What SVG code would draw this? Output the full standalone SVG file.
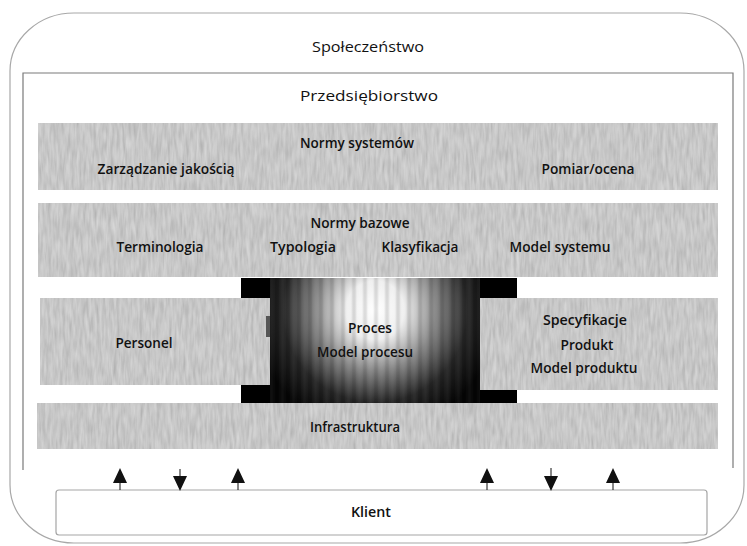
<svg xmlns="http://www.w3.org/2000/svg" width="747" height="546" viewBox="0 0 747 546">
  <style>
    text { font-family: "Open Sans", "Noto Sans", "Liberation Sans", sans-serif; font-size: 14px; fill: #111; text-anchor: middle; }
    .reg { font-weight: 400; }
    .sb { font-weight: 600; }
    .frame { fill: none; stroke: #a8a8a8; stroke-width: 1.2; }
    .band { fill: #cbcbcb; filter: url(#grain); }
    .arrow { stroke: #111; stroke-width: 1; fill: none; }
    .head { fill: #111; }
  </style>
  <defs>
    <!-- soft streaky grain for the grey layers -->
    <filter id="grain" x="0" y="0" width="1" height="1">
      <feTurbulence type="fractalNoise" baseFrequency="0.35 0.05" numOctaves="2" seed="7" result="n"/>
      <feColorMatrix in="n" type="matrix" values="0 0 0 0 0  0 0 0 0 0  0 0 0 0 0  0.45 0 0 0 -0.14" result="dark"/>
      <feComposite in="dark" in2="SourceGraphic" operator="in" result="darkIn"/>
      <feTurbulence type="fractalNoise" baseFrequency="0.3 0.06" numOctaves="2" seed="19" result="n2"/>
      <feColorMatrix in="n2" type="matrix" values="0 0 0 0 1  0 0 0 0 1  0 0 0 0 1  0.4 0 0 0 -0.14" result="light"/>
      <feComposite in="light" in2="SourceGraphic" operator="in" result="lightIn"/>
      <feMerge>
        <feMergeNode in="SourceGraphic"/>
        <feMergeNode in="darkIn"/>
        <feMergeNode in="lightIn"/>
      </feMerge>
    </filter>
    <!-- light core of the process block -->
    <radialGradient id="glow" gradientUnits="userSpaceOnUse" cx="375" cy="310" r="122">
      <stop offset="0" stop-color="#ffffff"/>
      <stop offset="0.24" stop-color="#efefef"/>
      <stop offset="0.5" stop-color="#858585"/>
      <stop offset="0.76" stop-color="#262626"/>
      <stop offset="1" stop-color="#050505"/>
    </radialGradient>
    <filter id="soft" x="-5%" y="-5%" width="110%" height="110%">
      <feGaussianBlur stdDeviation="1.2"/>
    </filter>
    <pattern id="stripes" patternUnits="userSpaceOnUse" width="11" height="10">
      <rect x="0" y="0" width="4" height="10" fill="#000" opacity="0.13"/>
      <rect x="6" y="0" width="3" height="10" fill="#fff" opacity="0.05"/>
    </pattern>
    <clipPath id="core">
      <rect x="270" y="278" width="210" height="125"/>
    </clipPath>
  </defs>

  <!-- society frame -->
  <g id="spoleczenstwo">
    <rect class="frame" x="10" y="13" width="734" height="530" rx="64" ry="58"/>
    <text class="reg" x="368" y="52" textLength="112" lengthAdjust="spacingAndGlyphs">Społeczeństwo</text>
  </g>

  <!-- enterprise frame (open at the bottom) -->
  <g id="przedsiebiorstwo">
    <path d="M23,470 V73 H733 V468" fill="none" stroke="#7a7a7a" stroke-width="1.2"/>
    <text class="reg" x="369" y="101" textLength="138" lengthAdjust="spacingAndGlyphs">Przedsiębiorstwo</text>
  </g>

  <g id="normy-systemow">
    <rect class="band" x="38" y="123" width="680" height="67"/>
    <text class="sb" x="357" y="148" textLength="114" lengthAdjust="spacingAndGlyphs">Normy systemów</text>
    <text class="sb" x="166" y="174" textLength="137" lengthAdjust="spacingAndGlyphs">Zarządzanie jakością</text>
    <text class="sb" x="588" y="174" textLength="93" lengthAdjust="spacingAndGlyphs">Pomiar/ocena</text>
  </g>

  <g id="normy-bazowe">
    <rect class="band" x="38" y="203" width="680" height="74"/>
    <text class="sb" x="360" y="228" textLength="99" lengthAdjust="spacingAndGlyphs">Normy bazowe</text>
    <text class="sb" x="160" y="252" textLength="87" lengthAdjust="spacingAndGlyphs">Terminologia</text>
    <text class="sb" x="303" y="252" textLength="66" lengthAdjust="spacingAndGlyphs">Typologia</text>
    <text class="sb" x="420" y="252" textLength="77" lengthAdjust="spacingAndGlyphs">Klasyfikacja</text>
    <text class="sb" x="560" y="252" textLength="101" lengthAdjust="spacingAndGlyphs">Model systemu</text>
  </g>

  <g id="proces">
    <rect x="241" y="278" width="276" height="125" fill="#000"/>
    <g clip-path="url(#core)">
      <rect x="270" y="278" width="210" height="125" fill="url(#glow)"/>
      <rect x="266" y="274" width="218" height="133" fill="url(#stripes)" filter="url(#soft)"/>
    </g>
    <text class="sb" x="370" y="333" textLength="44" lengthAdjust="spacingAndGlyphs">Proces</text>
    <text class="sb" x="365" y="357" textLength="96" lengthAdjust="spacingAndGlyphs">Model procesu</text>
  </g>

  <g id="personel">
    <rect class="band" x="40" y="298" width="230" height="87"/>
    <rect x="266" y="316" width="4" height="21" fill="#555"/>
    <text class="sb" x="144" y="348" textLength="57" lengthAdjust="spacingAndGlyphs">Personel</text>
  </g>

  <g id="produkt">
    <rect class="band" x="480" y="298" width="238" height="92"/>
    <text class="sb" x="585" y="325" textLength="84" lengthAdjust="spacingAndGlyphs">Specyfikacje</text>
    <text class="sb" x="587" y="350" textLength="53" lengthAdjust="spacingAndGlyphs">Produkt</text>
    <text class="sb" x="584" y="373" textLength="107" lengthAdjust="spacingAndGlyphs">Model produktu</text>
  </g>

  <g id="infrastruktura">
    <rect class="band" x="37" y="403" width="681" height="46"/>
    <text class="sb" x="355" y="432" textLength="90" lengthAdjust="spacingAndGlyphs">Infrastruktura</text>
  </g>

  <g id="klient">
    <rect x="56" y="490" width="651" height="45" rx="3" fill="#fff" stroke="#a5a5a5" stroke-width="1.2"/>
    <text class="sb" x="371" y="517" textLength="40" lengthAdjust="spacingAndGlyphs">Klient</text>
  </g>

  <!-- flows between the enterprise and the client -->
  <g id="connectors">
    <g>
      <line class="arrow" x1="120" y1="490" x2="120" y2="482"/>
      <path class="head" d="M120,468 L127,483 L113,483 Z"/>
    </g>
    <g>
      <line class="arrow" x1="180" y1="469" x2="180" y2="477"/>
      <path class="head" d="M180,491 L187,476 L173,476 Z"/>
    </g>
    <g>
      <line class="arrow" x1="238" y1="490" x2="238" y2="482"/>
      <path class="head" d="M238,468 L245,483 L231,483 Z"/>
    </g>
    <g>
      <line class="arrow" x1="487" y1="490" x2="487" y2="482"/>
      <path class="head" d="M487,468 L494,483 L480,483 Z"/>
    </g>
    <g>
      <line class="arrow" x1="551" y1="468" x2="551" y2="477"/>
      <path class="head" d="M551,491 L558,476 L544,476 Z"/>
    </g>
    <g>
      <line class="arrow" x1="613" y1="490" x2="613" y2="482"/>
      <path class="head" d="M613,468 L620,483 L606,483 Z"/>
    </g>
  </g>
</svg>
